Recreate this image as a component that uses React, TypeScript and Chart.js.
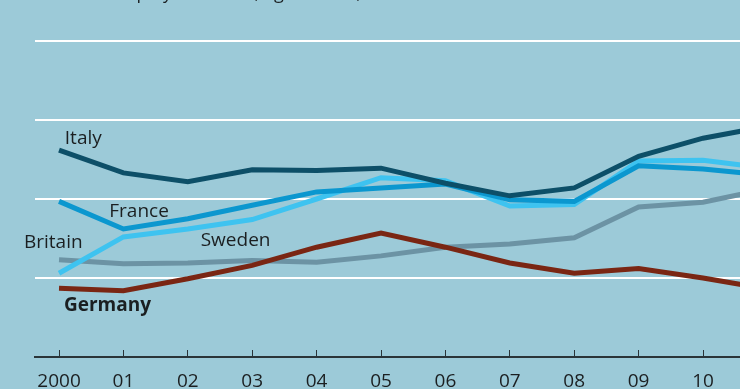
import React, { useEffect, useRef } from "react";
import { Chart, registerables } from "chart.js";

Chart.register(...registerables);

const years = [2000, 2001, 2002, 2003, 2004, 2005, 2006, 2007, 2008, 2009, 2010, 2011];
const tickYears = [2000, 2001, 2002, 2003, 2004, 2005, 2006, 2007, 2008, 2009, 2010, 2011];
const germany = [8.7, 8.4, 9.9, 11.6, 13.9, 15.7, 13.9, 11.9, 10.6, 11.2, 10.0, 8.6];
const italy = [26.2, 23.3, 22.2, 23.7, 23.6, 23.9, 22.0, 20.4, 21.4, 25.4, 27.7, 29.2];
const france = [19.7, 16.2, 17.5, 19.2, 20.9, 21.4, 21.9, 19.9, 19.7, 24.2, 23.8, 23.0];
const sweden = [10.6, 15.2, 16.2, 17.4, 20.0, 22.7, 22.3, 19.1, 19.3, 24.8, 24.9, 23.9];
const britain = [12.3, 11.8, 11.9, 12.2, 12.0, 12.8, 13.9, 14.3, 15.1, 19.0, 19.6, 21.3];

const subtitle = "Unemployment rate, aged 15-24, %";

const seriesLabels = [
  { text: "Italy", x: 2000.09, y: 27.7, bold: false },
  { text: "France", x: 2000.78, y: 18.35, bold: false },
  { text: "Britain", x: 1999.456, y: 14.43, bold: false },
  { text: "Sweden", x: 2002.2, y: 14.68, bold: false },
  { text: "Germany", x: 2000.077, y: 6.46, bold: true },
];

const FONT = "'Open Sans', sans-serif";
const BG = "#9ccad8";
const TEXT = "#1b1f21";

const labelPlugin = {
  id: "seriesLabels",
  afterDraw(chart: any) {
    const ctx = chart.ctx;
    const xs = chart.scales.x;
    const ys = chart.scales.y;
    ctx.save();
    ctx.fillStyle = TEXT;
    ctx.textBaseline = "middle";
    ctx.textAlign = "left";
    for (const l of seriesLabels) {
      ctx.font = `${l.bold ? "bold " : ""}19px ${FONT}`;
      ctx.fillText(l.text, xs.getPixelForValue(l.x), ys.getPixelForValue(l.y));
    }
    // subtitle (mostly cropped above the visible area)
    ctx.font = `18px ${FONT}`;
    ctx.textBaseline = "alphabetic";
    const pre = ctx.measureText("Unem").width;
    const pw = ctx.measureText("p").width;
    ctx.fillText(subtitle, 142 - pre - pw / 2, 39);
    ctx.restore();
  },
};

export default function App() {
  const ref = useRef<HTMLCanvasElement | null>(null);
  useEffect(() => {
    if (!ref.current) return;
    const mk = (label: string, data: number[], color: string) => ({
      label,
      data: years.map((y, i) => ({ x: y, y: data[i] })),
      borderColor: color,
      backgroundColor: color,
      borderWidth: 5,
      pointRadius: 0,
      tension: 0,
      borderCapStyle: "butt" as const,
      borderJoinStyle: "miter" as const,
    });
    const chart = new Chart(ref.current, {
      type: "line",
      data: {
        datasets: [
          mk("Germany", germany, "#7a2613"),
          mk("Italy", italy, "#0d4f68"),
          mk("France", france, "#0b97cf"),
          mk("Sweden", sweden, "#3ec3f0"),
          mk("Britain", britain, "#6c93a4"),
        ],
      },
      options: {
        animation: false,
        responsive: false,
        devicePixelRatio: 1,
        layout: { padding: { top: 2, left: 0, right: 0, bottom: 0 } },
        plugins: { legend: { display: false }, tooltip: { enabled: false }, title: { display: false } },
        scales: {
          x: {
            type: "linear",
            min: 1999.627,
            max: 2012.127,
            afterBuildTicks: (scale: any) => {
              scale.ticks = tickYears.map((v) => ({ value: v }));
            },
            afterFit: (scale: any) => {
              scale.height = 43;
              scale.paddingLeft = 0;
              scale.paddingRight = 0;
            },
            grid: {
              drawOnChartArea: false,
              drawTicks: true,
              tickLength: -7,
              color: "#2a3438",
              lineWidth: 1,
            },
            border: { display: true, color: "#2a3438", width: 2 },
            ticks: {
              autoSkip: false,
              maxRotation: 0,
              padding: 20,
              color: TEXT,
              font: { family: FONT, size: 19 },
              callback: (v: any) => (Number(v) === 2000 ? "2000" : String(Number(v) % 100).padStart(2, "0")),
            },
          },
          y: {
            min: 0,
            max: 50,
            afterFit: (scale: any) => {
              scale.width = 35;
            },
            ticks: { display: false, stepSize: 10 },
            grid: {
              drawTicks: false,
              lineWidth: 2,
              color: (c: any) => (c.tick && c.tick.value === 0 ? "rgba(0,0,0,0)" : "#ffffff"),
            },
            border: { display: false },
          },
        },
      },
      plugins: [labelPlugin],
    });
    return () => chart.destroy();
  }, []);

  return (
    <div
      style={{
        position: "fixed",
        left: 0,
        top: 0,
        width: 740,
        height: 389,
        overflow: "hidden",
        background: BG,
      }}
    >
      <canvas
        ref={ref}
        width={840}
        height={440}
        style={{ position: "absolute", left: 0, top: -40, width: 840, height: 440 }}
      />
    </div>
  );
}
